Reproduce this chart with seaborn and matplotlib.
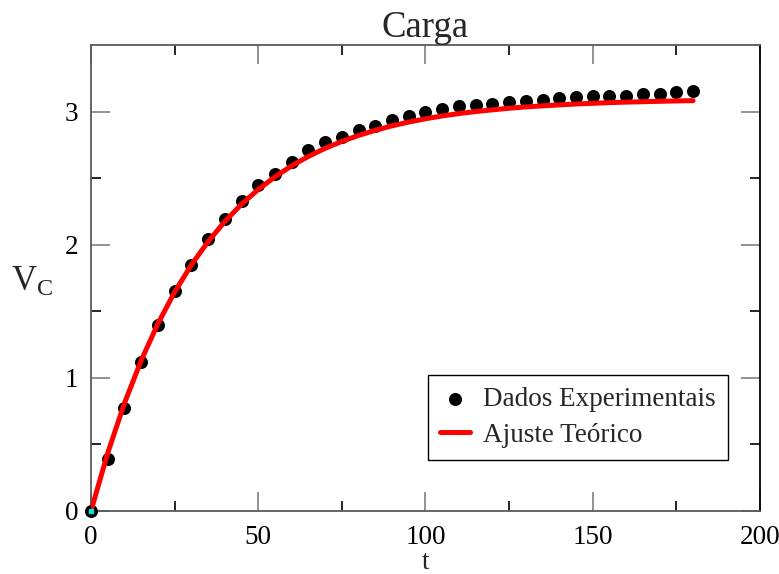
import numpy as np
import pandas as pd
import matplotlib
matplotlib.use('Agg')
import matplotlib.pyplot as plt
import seaborn as sns

t_data = [0, 5, 10, 15, 20, 25, 30, 35, 40, 45, 50, 55, 60, 65, 70, 75, 80, 85, 90,
          95, 100, 105, 110, 115, 120, 125, 130, 135, 140, 145, 150, 155, 160, 165,
          170, 175, 180]
v_data = [0.0, 0.39, 0.77, 1.12, 1.40, 1.65, 1.85, 2.04, 2.19, 2.33, 2.45, 2.53, 2.62,
          2.71, 2.77, 2.81, 2.86, 2.89, 2.94, 2.97, 3.00, 3.02, 3.04, 3.05, 3.06, 3.07,
          3.08, 3.09, 3.10, 3.11, 3.115, 3.115, 3.12, 3.13, 3.135, 3.15, 3.155]

# theoretical fit curve
t_fit = [0, 5, 10, 15, 20, 25, 30, 35, 40, 45, 50, 55, 60, 65, 70, 75, 80, 85, 90,
         95, 100, 105, 110, 115, 120, 125, 130, 135, 140, 145, 150, 155, 160, 165,
         170, 175, 180]
v_fit = [0.0, 0.435, 0.809, 1.130, 1.407, 1.644, 1.848, 2.023, 2.174, 2.304, 2.415,
         2.510, 2.593, 2.663, 2.724, 2.776, 2.821, 2.859, 2.893, 2.921, 2.946, 2.967,
         2.985, 3.000, 3.013, 3.025, 3.035, 3.043, 3.050, 3.057, 3.062, 3.067, 3.071,
         3.074, 3.077, 3.080, 3.082]

x_ticks = [0, 50, 100, 150, 200]
x_minor = [25, 75, 125, 175]
y_ticks = [0, 1, 2, 3]
y_minor = [0.5, 1.5, 2.5]

sns.set_theme(style='ticks')
plt.rcParams['font.family'] = ['Liberation Serif', 'DejaVu Serif']
plt.rcParams['mathtext.fontset'] = 'custom'
plt.rcParams['mathtext.rm'] = 'Liberation Serif'
plt.rcParams['mathtext.it'] = 'Liberation Serif'

df_data = pd.DataFrame({'t': t_data, 'V': v_data})
df_fit = pd.DataFrame({'t': t_fit, 'V': v_fit})

fig = plt.figure(figsize=(7.79, 5.74), dpi=100)
ax = fig.add_axes([0.1168, 0.1098, 0.8588, 0.8118])

sns.scatterplot(data=df_data, x='t', y='V', ax=ax, color='black', s=88,
                edgecolor='black', linewidth=0, label='Dados Experimentais', zorder=3,
                clip_on=False)
sns.lineplot(data=df_fit, x='t', y='V', ax=ax, color='#ff0000', linewidth=3.6,
             label='Ajuste Teórico', zorder=4)
# small cyan square left at the origin
ax.plot([t_data[0]], [v_data[0]], marker='s', color='#00e5e5', markersize=3.5,
        linestyle='none', zorder=5, clip_on=False)

ax.set_xlim(0, 200)
ax.set_ylim(0, 3.5)
ax.set_xticks(x_ticks)
ax.set_xticks(x_minor, minor=True)
ax.set_yticks(y_ticks)
ax.set_yticks(y_minor, minor=True)

for side in ['top', 'left', 'bottom']:
    ax.spines[side].set_color('#5a5a5a')
    ax.spines[side].set_linewidth(1.3)
ax.spines['right'].set_color('black')
ax.spines['right'].set_linewidth(1.3)

ax.tick_params(which='both', direction='in', top=True, right=True, width=1.2,
               labelsize=19.5, labelcolor='black')
ax.tick_params(which='major', length=14, color='#808080')
ax.tick_params(which='minor', length=7, color='black')
ax.tick_params(axis='y', which='major', pad=9)
ax.tick_params(axis='x', which='major', pad=10)
ax.grid(False)

ax.set_xlabel('t', fontsize=19.5, labelpad=0)
ax.set_ylabel(r'V$_{\mathrm{C}}$', fontsize=25, rotation=0, va='center', ha='center')
ax.yaxis.set_label_coords(-0.088, 0.49)
ax.set_title('Carga', fontsize=26.5, pad=5)

leg = ax.legend(loc='lower right', bbox_to_anchor=(0.952, 0.11), fontsize=19.5,
                frameon=True, fancybox=False, edgecolor='black', framealpha=1,
                handlelength=1.1, handletextpad=0.5, borderpad=0.45,
                labelspacing=0.4, borderaxespad=0)
leg.get_frame().set_linewidth(1.0)

fig.savefig('out.png', dpi=100)
